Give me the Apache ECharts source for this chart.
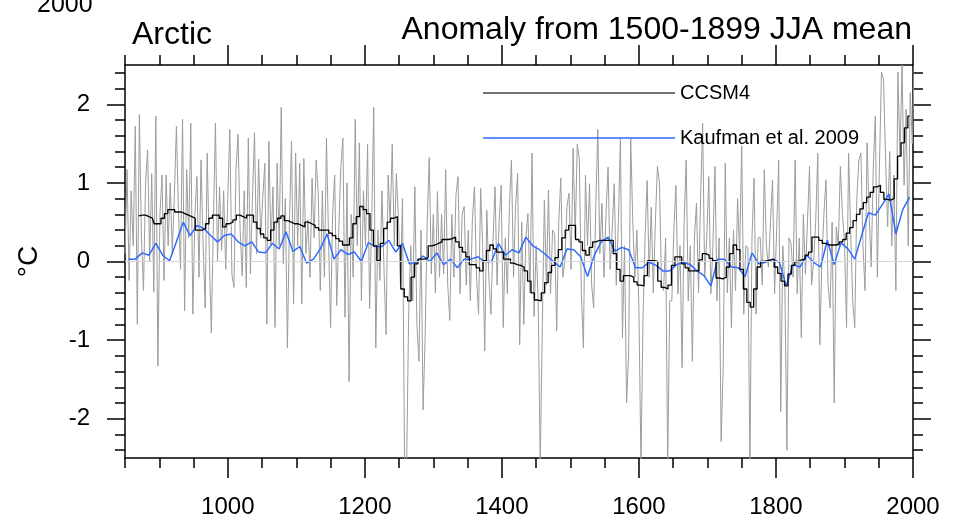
<!DOCTYPE html>
<html>
<head>
<meta charset="utf-8">
<script src="https://cdn.jsdelivr.net/npm/echarts@6/dist/echarts.min.js"></script>
<style>
  html, body { margin: 0; background: #fff; }
  #chart { width: 953px; height: 520px; }
</style>
</head>
<body>
<div id="chart"></div>
<script>
// annual CCSM4 JJA anomaly (sampled every 3 years from 850)
const annualStart = 850;
const annualStep = 3;
const annualValues = [
  0.1, 1.17, -0.24, 0.9, 0.2, 1.72, -0.8, 1.87, 0.3, -0.37,
  1.0, 1.42, 0.0, 1.12, -0.39, 1.85, -1.33, 0.6, 1.10, -0.24,
  1.10, 0.2, 1.0, 0.1, 0.83, 1.72, 0.65, -0.1, 1.81, -0.63,
  1.17, 0.3, 1.76, -0.67, 0.6, 1.08, -0.2, 1.29, 0.2, -0.59,
  1.38, 0.1, -0.91, 0.5, 1.76, 0.0, 0.95, 0.14, 0.9, -0.1,
  0.8, 1.68, -0.16, -0.33, 1.17, 1.62, 0.4, -0.18, 0.9, -0.33,
  1.57, -0.16, 0.8, 1.64, 0.1, 1.3, 0.3, 0.8, 1.25, -0.8,
  1.53, 0.2, 0.95, -0.84, 1.25, 0.2, 1.96, -0.03, 0.8, -1.1,
  0.5, 1.53, -0.54, 1.38, 0.2, 1.25, -0.54, 1.31, 0.1, 0.53,
  -0.2, 1.06, 0.3, 1.29, 0.87, -0.37, 0.9, -0.2,
  1.57, 0.3, -0.84, 0.6, 1.1, -0.56, 0.4, 1.21, 1.57, -0.71,
  1.0, -1.53, 0.6, -0.2, 1.81, 0.2, 1.51, -0.5, 0.9, 0.2,
  1.49, -0.6, 0.5, 1.96, -1.1, 0.4, -0.24, 0.9, -0.1, -0.93,
  1.1, 0.5, 1.49, 0.2, 1.12, 0.56, -0.3, 0.8, -2.6, -2.6,
  -0.67, 0.2, -0.5, 0.95, -0.8, -1.27, 0.4, -1.89, -0.97, 0.5,
  1.32, -0.16, 0.6, -0.4, 0.89, -0.2, 0.6, -0.16, 1.17, -0.3,
  -0.75, 0.6, -0.2, 0.85, 1.08, -0.41, 0.6, 0.7, -0.3, 0.4,
  -0.5, 0.53, 0.95, -0.2, -0.67, 0.93, 0.2, -1.14, 0.65, -0.2,
  -0.67, 0.25, 0.95, -0.3, 0.5, 0.97, -0.84, 0.3, -0.41, 0.7,
  1.29, -0.2, 0.7, 1.12,
  -1.06, 0.5, -0.8, 0.3, 0.61, -0.4, 1.38, -0.7, 0.2, -0.5,
  -2.6, -0.84, 0.78, -0.3, 0.91, -0.41, 0.4, 0.35, -0.88, 0.5,
  1.06, -0.2, 0.01, 0.7, 0.87, -0.1, 1.44, 0.3, 1.49, 1.3,
  -0.4, -1.1, 1.1, 0.2, 0.99, -0.3, -0.59, 0.7, 1.68, 0.1,
  0.74, -0.2, 0.61, 1.2, -0.1, 0.4, 0.99, -0.3, 0.5, 1.57,
  -0.97, 0.2, -1.80, -1.19, 1.57, 0.53, -0.2, 0.4, -0.6, -2.6,
  -0.71, 0.3, 1.03, -0.2, 0.69, -0.4, 0.5, 1.21, 1.0, -0.3,
  -0.37, 0.3, -2.6, -0.5, -0.50, 0.4, 0.97, -0.41, 0.2, -1.35,
  0.5, 1.29, -0.50, 0.2, -1.27, 0.3, 0.74, -0.4, 0.8, 1.76,
  -0.2, 0.3, 1.08, -0.41, 0.2, 1.21,
  -0.5, 0.3, -2.29, -1.35, 1.25, -0.4, 0.3, -0.84, 0.4, -0.37,
  0.8, 0.1, 1.47, -0.67, 0.2, 0.18, -2.6, 0.3, 1.06, -0.67,
  0.3, 0.31, -0.3, 1.17, 0.2, -0.07, 0.5, 1.04, -0.41, 0.4,
  1.29, -1.91, 0.2, -0.33, -2.40, 0.3, 0.23, -0.2, 1.29, -0.41,
  0.3, -0.97, 0.6, -0.16, 0.5, 1.21, -0.3, 0.01, 0.5, 1.38,
  -1.06, 0.01, 0.6, 1.04, -0.3, -0.59, 0.5, -1.80, 0.44, 0.2,
  1.21, 0.6, 0.27, -0.84, 1.38, 0.4, -0.5, -0.84, 0.8, 1.29,
  1.38, 0.2, -0.37, 1.51, 0.6, -0.07, 1.2, 1.85, -0.2, 1.2,
  2.41, 2.32, 1.29, 0.44, 1.4, 0.2, 1.1, -0.37, 2.41, 1.34,
  2.5, 0.97, 1.94, 0.2, 2.15, 1.5, 2.6, 1.9
];

// CCSM4 smoothed (every 5 years from 870)
const smoothStart = 870;
const smoothStep = 5;
const smoothValues = [
  0.58, 0.59, 0.59, 0.57, 0.55, 0.48, 0.48, 0.55, 0.61, 0.66,
  0.66, 0.63, 0.63, 0.61, 0.59, 0.57, 0.55, 0.40, 0.40, 0.42,
  0.48, 0.55, 0.59, 0.59, 0.55, 0.44, 0.48, 0.50, 0.53, 0.59,
  0.57, 0.55, 0.59, 0.59, 0.50, 0.42, 0.35, 0.30, 0.27, 0.40,
  0.50, 0.55, 0.58, 0.52, 0.50, 0.48, 0.48, 0.46, 0.44, 0.50,
  0.48, 0.46, 0.43, 0.40,
  0.40, 0.40, 0.36, 0.33, 0.29, 0.26, 0.21, 0.21, 0.30, 0.48,
  0.57, 0.70, 0.66, 0.61, 0.40, 0.20, 0.01, 0.23, 0.42, 0.50,
  0.55, 0.57, 0.20, -0.35, -0.45, -0.50, -0.20, -0.03, 0.03, 0.03,
  0.05, 0.20, 0.21, 0.23, 0.25, 0.28, 0.28, 0.29, 0.31, 0.25,
  0.18, 0.12, 0.06, -0.04, -0.04, -0.08, -0.12, 0.01, 0.14, 0.21,
  0.16, 0.12, 0.12, 0.03, 0.03, -0.02, -0.04,
  -0.05, -0.07, -0.12, -0.25, -0.40, -0.49, -0.50, -0.40, -0.27, -0.14,
  -0.05, 0.05, 0.15, 0.30, 0.40, 0.46, 0.46, 0.28, 0.25, 0.14,
  0.08, 0.18, 0.25, 0.27, 0.27, 0.27, 0.27, 0.27, 0.10, -0.10,
  -0.25, -0.18, -0.18, -0.20, -0.26, -0.30, -0.31, -0.18, 0.01, 0.01,
  0.00, -0.25, -0.33, -0.35, -0.30, -0.05, 0.06, 0.06, -0.03, -0.08,
  -0.12, -0.12, -0.12, 0.02, 0.10, 0.08, 0.04, 0.01,
  -0.21, -0.22, -0.20, -0.07, 0.10, 0.21, 0.15, -0.10, -0.35, -0.52,
  -0.58, -0.35, -0.07, 0.00, 0.01, 0.02, 0.03, -0.07, -0.15, -0.25,
  -0.31, -0.16, -0.05, 0.00, 0.02, 0.03, 0.08, 0.12, 0.31, 0.31,
  0.27, 0.23, 0.21, 0.21, 0.21, 0.22, 0.25, 0.28, 0.36, 0.43,
  0.52, 0.60, 0.67, 0.75, 0.82, 0.88, 0.95, 0.97, 0.88, 0.79,
  0.78, 0.80, 1.05, 1.34, 1.51, 1.70, 1.85
];

// Kaufman et al. 2009 decadal reconstruction (from 855)
const kaufStart = 855;
const kaufStep = 10;
const kaufValues = [
  0.03, 0.03, 0.11, 0.08, 0.23, 0.08, 0.01, 0.25, 0.50, 0.33,
  0.46, 0.42, 0.33, 0.25, 0.33, 0.35, 0.25, 0.20, 0.25, 0.12,
  0.11, 0.23, 0.16, 0.38, 0.13, 0.19, -0.02, 0.03, 0.16,
  0.35, 0.03, 0.15, 0.09, 0.12, 0.00, 0.24, 0.19, 0.19, 0.27,
  0.12, 0.23, -0.03, -0.01, 0.07, 0.00, 0.11, -0.04, 0.03, -0.08,
  0.03, 0.03, 0.06, 0.00, 0.00, 0.23, 0.08, 0.15,
  0.11, 0.31, 0.20, 0.15, 0.08, 0.00, -0.07, 0.16, 0.15, 0.06,
  -0.19, 0.08, 0.25, 0.31, 0.13, 0.18, 0.15, -0.08, -0.08, -0.01,
  -0.05, -0.12, -0.12, -0.04, -0.01, -0.04, -0.12, -0.18, -0.31,
  0.03, 0.03, -0.07, -0.08, -0.19, 0.11, -0.03, -0.01, 0.03, -0.01,
  -0.31, -0.04, -0.07, 0.08, -0.01, -0.07, 0.27, -0.04, 0.24, 0.16,
  0.03, 0.33, 0.62, 0.59, 0.72, 0.86, 0.35, 0.66, 0.82
];

// axis ticks and labels
const xMajorTicks = [1000, 1200, 1400, 1600, 1800, 2000];
const xMinorTicks = [850, 900, 950, 1050, 1100, 1150, 1250, 1300, 1350, 1450, 1500, 1550,
  1650, 1700, 1750, 1850, 1900, 1950];
const yMajorTicks = [-2, -1, 0, 1, 2];
const yMinorTicks = [-2.4, -2.2, -1.8, -1.6, -1.4, -1.2, -0.8, -0.6, -0.4, -0.2,
  0.2, 0.4, 0.6, 0.8, 1.2, 1.4, 1.6, 1.8, 2.2, 2.4];

const font = "'Liberation Sans', Arial, sans-serif";

function toPairs(start, step, values) {
  return values.map((v, i) => [start + i * step, v]);
}

function xAxisDef(position, ticks, len, withLabels) {
  return {
    type: 'value', position: position, min: 850, max: 2000,
    axisLine: { show: withLabels, onZero: false, lineStyle: { color: '#000', width: 1.5 } },
    axisTick: { show: true, customValues: ticks, length: len, lineStyle: { color: '#000', width: 1.5 } },
    axisLabel: {
      show: withLabels && position === 'bottom', customValues: ticks, margin: 37,
      fontSize: 24, color: '#000', fontFamily: font,
      formatter: v => String(v)
    },
    splitLine: { show: false }
  };
}

function yAxisDef(position, ticks, len, withLabels) {
  const ax = {
    type: 'value', position: position, min: -2.5, max: 2.5,
    axisLine: { show: withLabels, onZero: false, lineStyle: { color: '#000', width: 1.5 } },
    axisTick: { show: true, customValues: ticks, length: len, lineStyle: { color: '#000', width: 1.5 } },
    axisLabel: {
      show: withLabels && position === 'left', customValues: ticks, margin: 35,
      fontSize: 24, color: '#000', fontFamily: font,
      formatter: v => String(v)
    },
    splitLine: { show: false }
  };
  if (withLabels && position === 'left') {
    ax.name = '°C';
    ax.nameLocation = 'middle';
    ax.nameGap = 82;
    ax.nameRotate = 90;
    ax.nameTextStyle = { fontSize: 28, color: '#000', fontFamily: font };
  }
  return ax;
}

const chart = echarts.init(document.getElementById('chart'));
chart.setOption({
  animation: false,
  backgroundColor: '#fff',
  grid: { left: 125, right: 40, top: 65, bottom: 62 },
  title: [
    { text: 'Arctic', left: 127, top: 14, textStyle: { fontSize: 32, fontWeight: 'normal', color: '#000', fontFamily: font } },
    { text: 'Anomaly from 1500-1899 JJA mean', right: 36, top: 9, textStyle: { fontSize: 32, fontWeight: 'normal', color: '#000', fontFamily: font } }
  ],
  graphic: [
    { type: 'text', left: 37, top: -7, style: { text: '2000', fontSize: 25, fill: '#000', fontFamily: font } }
  ],
  legend: {
    orient: 'vertical', left: 478, top: 78, itemGap: 25,
    icon: 'rect', itemWidth: 192, itemHeight: 1.5, itemTextGap: 9,
    textStyle: { fontSize: 20, color: '#000', fontFamily: font },
    data: [
      { name: 'CCSM4', itemStyle: { color: '#444' } },
      { name: 'Kaufman et al. 2009' }
    ]
  },
  xAxis: [
    xAxisDef('bottom', xMajorTicks, 20, true),
    xAxisDef('bottom', xMinorTicks, 10, false),
    xAxisDef('top', xMajorTicks, 20, true),
    xAxisDef('top', xMinorTicks, 10, false)
  ],
  yAxis: [
    yAxisDef('left', yMajorTicks, 18, true),
    yAxisDef('left', yMinorTicks, 10, false),
    yAxisDef('right', yMajorTicks, 18, true),
    yAxisDef('right', yMinorTicks, 10, false)
  ],
  series: [
    {
      name: 'annual', type: 'line', showSymbol: false, silent: true,
      data: toPairs(annualStart, annualStep, annualValues),
      lineStyle: { color: '#9c9c9c', width: 1 },
      markLine: {
        silent: true, symbol: ['none', 'none'], label: { show: false },
        lineStyle: { color: '#d6d6d6', type: 'solid', width: 1 },
        data: [{ yAxis: 0 }]
      }
    },
    {
      name: 'Kaufman et al. 2009', type: 'line', showSymbol: false,
      data: toPairs(kaufStart, kaufStep, kaufValues),
      itemStyle: { color: '#2f6bff' },
      lineStyle: { color: '#2f6bff', width: 1.5 }
    },
    {
      name: 'CCSM4', type: 'line', showSymbol: false, step: 'middle',
      data: toPairs(smoothStart, smoothStep, smoothValues),
      itemStyle: { color: '#000' },
      lineStyle: { color: '#000', width: 1.3 }
    }
  ]
});
</script>
</body>
</html>
